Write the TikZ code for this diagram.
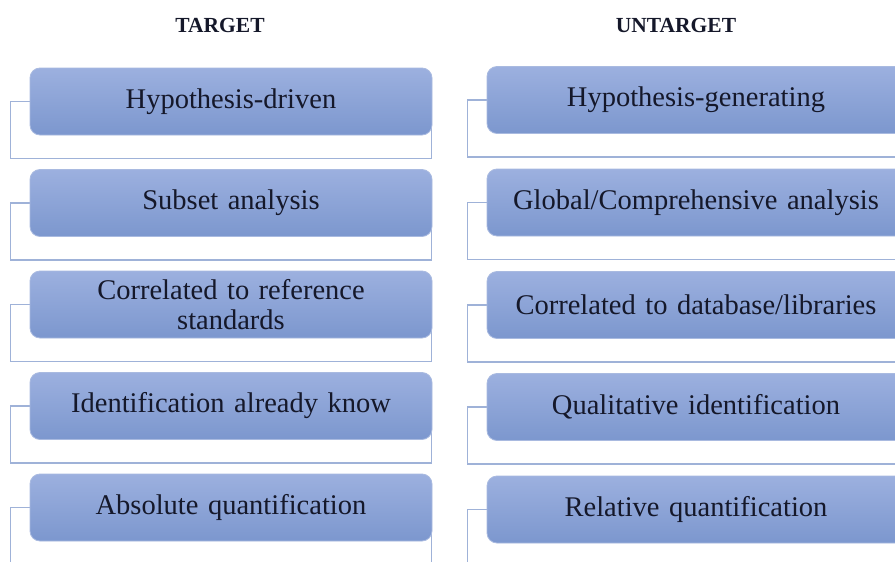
\documentclass[tikz,border=0pt]{standalone}
\usepackage{fontspec}
\setmainfont{Liberation Serif}
\usetikzlibrary{backgrounds,calc}
\definecolor{boxtop}{HTML}{9CB0DF}
\definecolor{boxbot}{HTML}{7C97CE}
\definecolor{boxedge}{HTML}{A9BAE0}
\definecolor{frameline}{HTML}{9FB2D8}
\definecolor{txt}{HTML}{15182A}
\tikzset{
  itembox/.style={draw=boxedge, line width=0.8pt, rounded corners=10pt,
    top color=boxtop, bottom color=boxbot, minimum height=67pt,
    text=txt, font=\fontsize{28.5}{30}\selectfont, align=center, inner sep=0pt},
  leftbox/.style={itembox, minimum width=402pt, text width=390pt},
  rightbox/.style={itembox, minimum width=418pt, text width=410pt},
  header/.style={font=\fontsize{21.5}{23}\selectfont\bfseries, text=txt},
  framebox/.style={draw=frameline, line width=1.3pt}
}
\begin{document}
\begin{tikzpicture}[x=1pt,y=-1pt]
\clip (0,0) rectangle (895,562);
\node[header] (hl) at (220,25) {TARGET};
\node[header] (hr) at (676,25) {UNTARGET};
% left column
\node[leftbox] (l1) at (231,101.5) {Hypothesis-driven};
\node[leftbox] (l2) at (231,203) {Subset analysis};
\node[leftbox] (l3) at (231,304.5) {Correlated to reference\\standards};
\node[leftbox] (l4) at (231,406) {Identification already know};
\node[leftbox] (l5) at (231,507.5) {Absolute quantification};
% right column
\node[rightbox] (r1) at (696,100) {Hypothesis-generating};
\node[rightbox] (r2) at (696,202.5) {Global/Comprehensive analysis};
\node[rightbox] (r3) at (696,305) {Correlated to database/libraries};
\node[rightbox] (r4) at (696,407) {Qualitative identification};
\node[rightbox] (r5) at (696,509.5) {Relative quantification};
\begin{scope}[on background layer]
\fill[white] (0,0) rectangle (895,562);
\foreach \b in {l1,l2,l3,l4,l5,r1,r2,r3,r4,r5}{
  \draw[framebox] ($(\b.west)+(-19,0)$) rectangle ($(\b.south east)+(-1,23)$);
}
\end{scope}
\end{tikzpicture}
\end{document}
